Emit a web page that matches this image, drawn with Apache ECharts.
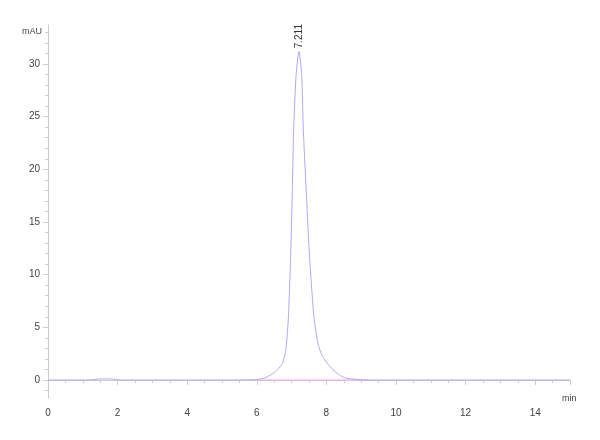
<!DOCTYPE html>
<html><head><meta charset="utf-8">
<script src="https://cdn.jsdelivr.net/npm/echarts@6/dist/echarts.min.js"></script>
<style>html,body{margin:0;padding:0;background:#fff}#c{width:600px;height:440px}</style>
</head><body><div id="c"></div>
<script>
// Chromatogram trace (time in min, absorbance in mAU)
const times  = [0, 1.2, 1.5, 1.8, 2.1, 4.0, 5.5, 6.0, 6.24, 6.47, 6.6, 6.74, 6.84, 6.91, 6.975, 7.02, 7.06, 7.13, 7.211, 7.29, 7.335, 7.42, 7.51, 7.64, 7.76, 7.88, 8.02, 8.3, 8.53, 8.9, 9.2, 12, 15];
const values = [0, 0, 0.1, 0.1, 0, 0, 0, 0.05, 0.2, 0.64, 1.0, 1.6, 3.0, 6.06, 12.0, 18.0, 23.9, 29.0, 31.2, 29.0, 23.9, 18.0, 12.0, 6.06, 3.4, 2.3, 1.6, 0.64, 0.2, 0.05, 0, 0, 0];
const peakTime = 7.211;
const peakValue = 31.2;
const peakLabel = '7.211';
const baselineTimes = [6.0, 9.2];
const baselineValues = [0, 0];
const yTickLabels = [0, 5, 10, 15, 20, 25, 30];
const yMinorTicks = [-1,1,2,3,4,6,7,8,9,11,12,13,14,16,17,18,19,21,22,23,24,26,27,28,29,31,32,33];

const traceData = times.map((t, i) => [t, values[i]]);
const baselineData = baselineTimes.map((t, i) => [t, baselineValues[i]]);

const chart = echarts.init(document.getElementById('c'));
const labelStyle = { color: '#444', fontSize: 10, fontFamily: 'Liberation Sans' };
chart.setOption({
  animation: false,
  grid: { left: 48, right: 30, top: 25, bottom: 42, containLabel: false },
  xAxis: {
    type: 'value', min: 0, max: 15, interval: 2,
    name: 'min', nameLocation: 'end', nameGap: -8,
    nameTextStyle: { color: '#444', fontSize: 9, fontFamily: 'Liberation Sans', verticalAlign: 'top', padding: [14, 0, 0, 0] },
    axisLine: { show: true, lineStyle: { color: '#ccc' } },
    axisTick: { show: true, length: 5, lineStyle: { color: '#ccc' } },
    minorTick: { show: true, splitNumber: 4, length: 3, lineStyle: { color: '#ccc' } },
    axisLabel: Object.assign({ showMaxLabel: false, margin: 10 }, labelStyle),
    splitLine: { show: false }
  },
  yAxis: [{
    type: 'value', min: -1.71, max: 33.7,
    axisLine: { show: true, lineStyle: { color: '#ccc' } },
    axisTick: { show: true, length: 5, customValues: yTickLabels, lineStyle: { color: '#ccc' } },
    axisLabel: Object.assign({ customValues: yTickLabels, margin: 8 }, labelStyle),
    splitLine: { show: false }
  }, {
    type: 'value', min: -1.71, max: 33.7, position: 'left',
    axisLine: { show: false },
    axisTick: { show: true, length: 3, customValues: yMinorTicks, lineStyle: { color: '#ccc' } },
    axisLabel: { show: false, customValues: yMinorTicks },
    splitLine: { show: false }
  }],
  graphic: [{
    type: 'text', left: 22, top: 27,
    style: { text: 'mAU', fill: '#444', fontSize: 9, fontFamily: 'Liberation Sans' }
  }],
  series: [{
    type: 'line', data: baselineData, yAxisIndex: 0, symbol: 'none',
    lineStyle: { color: '#f2a6f0', width: 1 }, silent: true
  }, {
    type: 'line', data: traceData, yAxisIndex: 0, symbol: 'none', smooth: 0.2,
    lineStyle: { color: '#aaaaf2', width: 1 }, silent: true,
    markPoint: {
      symbol: 'circle', symbolSize: 0, silent: true,
      label: { show: true, formatter: peakLabel, rotate: 90, position: 'top', align: 'left', verticalAlign: 'middle', distance: 3, fontSize: 10, color: '#333', fontFamily: 'Liberation Sans' },
      data: [{ coord: [peakTime, peakValue] }]
    }
  }]
});
</script></body></html>
